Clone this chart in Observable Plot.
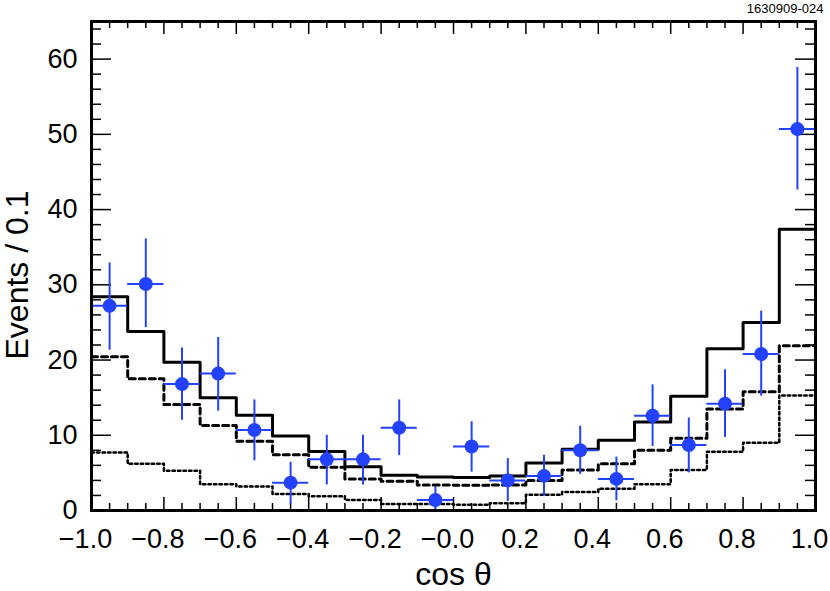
<!DOCTYPE html>
<html><head><meta charset="utf-8">
<script src="https://cdn.jsdelivr.net/npm/d3@7"></script>
<script src="https://cdn.jsdelivr.net/npm/@observablehq/plot@0.6"></script>
<style>body{margin:0;background:#fff}</style>
</head><body><div id="chart"></div>
<script>
// bin edges and centres of cos(theta)
const binEdges = [-1.0,-0.9,-0.8,-0.7,-0.6,-0.5,-0.4,-0.3,-0.2,-0.1,0.0,0.1,0.2,0.3,0.4,0.5,0.6,0.7,0.8,0.9,1.0];
const binCenters = [-0.95,-0.85,-0.75,-0.65,-0.55,-0.45,-0.35,-0.25,-0.15,-0.05,0.05,0.15,0.25,0.35,0.45,0.55,0.65,0.75,0.85,0.95];
// data points with asymmetric errors
const dataValues = [27.2,30.1,16.8,18.2,10.7,3.7,6.8,6.8,11.0,1.4,8.5,4.0,4.6,8.0,4.2,12.6,8.7,14.2,20.8,50.7];
const dataHigh   = [32.9,36.1,21.6,23.0,14.7,6.4,10.0,10.0,14.7,3.2,11.8,6.9,7.35,11.2,7.1,16.7,12.3,18.7,26.5,58.9];
const dataLow    = [21.3,24.3,12.0,13.2,6.6,0.9,3.4,3.4,7.3,0.0,5.1,1.2,1.9,4.8,1.3,8.5,5.0,9.7,15.2,42.6];
// histograms
const totalHist  = [28.4,23.8,19.7,15.0,12.65,9.9,7.85,5.8,4.7,4.45,4.4,4.6,6.3,8.15,9.35,11.75,15.2,21.5,25.0,37.4];
const dashedHist = [20.45,17.5,14.1,11.3,9.2,7.4,5.75,4.2,3.9,3.4,3.35,3.4,4.0,5.4,6.2,8.0,9.6,13.5,15.8,21.9];
const dottedHist = [7.7,6.2,5.3,3.5,3.2,2.2,1.9,1.4,0.85,0.85,0.75,0.98,2.1,2.45,2.9,3.5,5.4,7.8,9.0,15.3];
// ticks
const xMajorTicks = [-1.0,-0.8,-0.6,-0.4,-0.2,0.0,0.2,0.4,0.6,0.8,1.0];
const xMinorTicks = d3.range(-1, 1.0001, 0.05).map(v => +v.toFixed(2)).filter(v => Math.abs(Math.round(v*5) - v*5) > 1e-6);
const yMajorTicks = [0,10,20,30,40,50,60];
const yMinorTicks = d3.range(0, 65, 2).filter(v => v % 10 !== 0);
const xTickLabels = ["\u22121.0","\u22120.8","\u22120.6","\u22120.4","\u22120.2","\u22120.0","0.2","0.4","0.6","0.8","1.0"];

const W = 830, H = 591;
const mL = 91, mR = 15, mT = 21, mB = 81;
const innerW = W - mL - mR, innerH = H - mT - mB;
const blue = "#2342ff";

const step = vals => binEdges.map((e, i) => ({x: e, y: vals[Math.min(i, vals.length - 1)]}));
const points = binCenters.map((c, i) => ({c, lo: binEdges[i], hi: binEdges[i+1], v: dataValues[i], eLo: dataLow[i], eHi: dataHigh[i]}));

const chart = Plot.plot({
  width: W, height: H,
  marginLeft: mL, marginRight: mR, marginTop: mT, marginBottom: mB,
  style: {fontFamily: "'Liberation Sans', Arial, Helvetica, sans-serif", background: "white", color: "black"},
  x: {domain: [-1, 1]},
  y: {domain: [0, 65]},
  marks: [
    // tick marks (inside the frame, all four sides)
    Plot.tickX(xMajorTicks, {x: d => d, insetTop: innerH - 13, stroke: "black", strokeWidth: 1.5}),
    Plot.tickX(xMinorTicks, {x: d => d, insetTop: innerH - 7, stroke: "black", strokeWidth: 1.5}),
    Plot.tickX(xMajorTicks, {x: d => d, insetBottom: innerH - 13, stroke: "black", strokeWidth: 1.5}),
    Plot.tickX(xMinorTicks, {x: d => d, insetBottom: innerH - 7, stroke: "black", strokeWidth: 1.5}),
    Plot.tickY(yMajorTicks, {y: d => d, insetRight: innerW - 20, stroke: "black", strokeWidth: 1.5}),
    Plot.tickY(yMinorTicks, {y: d => d, insetRight: innerW - 10, stroke: "black", strokeWidth: 1.5}),
    Plot.tickY(yMajorTicks, {y: d => d, insetLeft: innerW - 20, stroke: "black", strokeWidth: 1.5}),
    Plot.tickY(yMinorTicks, {y: d => d, insetLeft: innerW - 10, stroke: "black", strokeWidth: 1.5}),
    // axes labels
    Plot.axisX(xMajorTicks, {anchor: "bottom", tickSize: 0, tickPadding: 18, fontSize: 27, label: null, dx: -6,
      tickFormat: d => xTickLabels[xMajorTicks.indexOf(d)]}),
    Plot.axisY(yMajorTicks, {anchor: "left", tickSize: 0, tickPadding: 14, fontSize: 27, label: null}),
    // histograms
    Plot.line(step(dottedHist), {x: "x", y: "y", curve: "step-after", stroke: "black", strokeWidth: 2.5, strokeDasharray: "2.5,3"}),
    Plot.line(step(dashedHist), {x: "x", y: "y", curve: "step-after", stroke: "black", strokeWidth: 3, strokeDasharray: "6,4"}),
    Plot.line(step(totalHist), {x: "x", y: "y", curve: "step-after", stroke: "black", strokeWidth: 3}),
    // data with errors
    Plot.ruleX(points, {x: "c", y1: "eLo", y2: "eHi", stroke: blue, strokeWidth: 2}),
    Plot.ruleY(points, {y: "v", x1: "lo", x2: "hi", stroke: blue, strokeWidth: 2}),
    Plot.dot(points, {x: "c", y: "v", r: 7, fill: blue, stroke: null}),
    Plot.frame({stroke: "black", strokeWidth: 3}),
    // texts
    Plot.text(["cos \u03b8"], {frameAnchor: "bottom", dy: 64, fontSize: 32, textAnchor: "middle", lineAnchor: "middle"}),
    Plot.text(["Events / 0.1"], {frameAnchor: "left", dx: -74, dy: 9, rotate: -90, fontSize: 32, textAnchor: "middle", lineAnchor: "middle"}),
    Plot.text(["1630909-024"], {frameAnchor: "top-right", dx: 8, dy: -13, fontSize: 13, textAnchor: "end", lineAnchor: "middle"})
  ]
});
document.getElementById("chart").appendChild(chart);
</script>
</body></html>
